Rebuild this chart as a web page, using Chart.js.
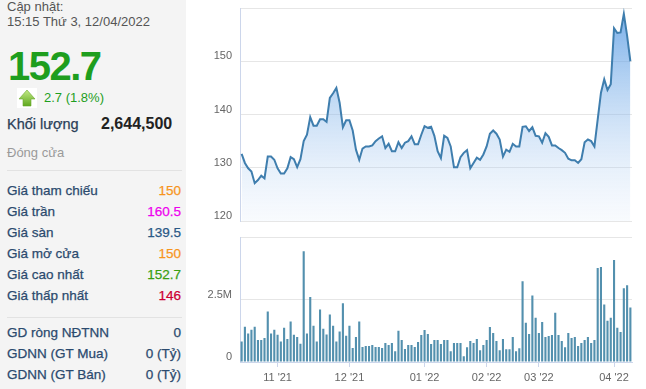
<!DOCTYPE html>
<html>
<head>
<meta charset="utf-8">
<script src="https://cdn.jsdelivr.net/npm/chart.js@4/dist/chart.umd.min.js"></script>
<style>
  body { margin: 0; width: 646px; height: 389px; background: #fff; overflow: hidden;
         font-family: Arial, "Liberation Sans", sans-serif; position: relative; }
  #panel { position: absolute; left: 0; top: 0; width: 186px; height: 389px; background: #f4f4f4; }
  .t { position: absolute; white-space: nowrap; }
  .row { position: absolute; left: 7px; width: 174px; height: 14px; line-height: 14px;
         font-size: 13.5px; color: #2b4a6e; display: flex; justify-content: space-between;
         -webkit-text-stroke: 0.25px; }
  .sep { position: absolute; left: 7px; width: 175px; height: 1px; background: #e2e2e2; }
  #price { position: absolute; left: 200px; top: 0; }
  #volume { position: absolute; left: 200px; top: 228px; }
</style>
</head>
<body>
<div id="panel">
  <div class="t" style="left:7px;top:0;font-size:13px;line-height:13px;color:#555">Cập nhật:</div>
  <div class="t" style="left:7px;top:15px;font-size:13px;line-height:13px;color:#555">15:15 Thứ 3, 12/04/2022</div>
  <div class="t" style="left:8px;top:46px;font-size:40px;line-height:40px;font-weight:bold;color:#1e9e1e;letter-spacing:-1.5px">152.7</div>
  <svg class="t" style="left:17px;top:88px" width="20" height="20" viewBox="0 0 20 20">
    <defs><linearGradient id="ag" x1="0" y1="0" x2="0" y2="1">
      <stop offset="0" stop-color="#c3ea86"/><stop offset="1" stop-color="#5fa81e"/></linearGradient></defs>
    <rect x="0" y="0" width="20" height="20" fill="#fff"/>
    <polygon points="10,2 18,11 14,11 14,18 6,18 6,11 2,11" fill="url(#ag)" stroke="#6aa82e" stroke-width="0.6"/>
  </svg>
  <div class="t" style="left:44px;top:91px;font-size:13px;line-height:13px;color:#1e9e1e">2.7 (1.8%)</div>
  <div class="t" style="left:7px;top:117px;font-size:14.5px;line-height:15px;color:#2b3f58;-webkit-text-stroke:0.25px">Khối lượng</div>
  <div class="t" style="left:101px;top:116px;font-size:16px;line-height:16px;font-weight:bold;color:#222">2,644,500</div>
  <div class="t" style="left:7px;top:146px;font-size:13px;line-height:13px;color:#9a9a9a">Đóng cửa</div>
  <div class="sep" style="top:170px"></div>
  <div class="row" style="top:184px"><span>Giá tham chiếu</span><span style="color:#f7941d">150</span></div>
  <div class="row" style="top:205px"><span>Giá trần</span><span style="color:#ee00ee">160.5</span></div>
  <div class="row" style="top:226px"><span>Giá sàn</span><span style="color:#2a5885">139.5</span></div>
  <div class="row" style="top:247px"><span>Giá mở cửa</span><span style="color:#f7941d">150</span></div>
  <div class="row" style="top:268px"><span>Giá cao nhất</span><span style="color:#3a9f12">152.7</span></div>
  <div class="row" style="top:289px"><span>Giá thấp nhất</span><span style="color:#cc0033">146</span></div>
  <div class="sep" style="top:317px"></div>
  <div class="row" style="top:326px"><span>GD ròng NĐTNN</span><span>0</span></div>
  <div class="row" style="top:347px"><span>GDNN (GT Mua)</span><span>0 (Tỷ)</span></div>
  <div class="row" style="top:368px"><span>GDNN (GT Bán)</span><span>0 (Tỷ)</span></div>
</div>

<canvas id="price" width="446" height="228"></canvas>
<canvas id="volume" width="446" height="161"></canvas>

<script>
// closing price, one value per trading day (15/10/2021 .. 08/04/2022)
var closePrices = [
  132.6, 130.9, 129.9, 129.3, 127.1, 127.7, 128.5, 128.0, 132.1, 132.1,
  131.5, 129.9, 128.9, 128.9, 129.9, 132.0, 131.6, 130.1, 131.6, 135.0,
  136.2, 139.5, 137.9, 137.9, 139.1, 139.1, 138.6, 143.1, 144.0, 145.0,
  142.2, 137.6, 138.9, 138.9, 137.0, 133.4, 131.5, 133.6, 134.0, 134.0,
  134.2, 135.0, 135.5, 135.9, 133.7, 134.5, 133.1, 133.1, 134.8, 133.7,
  134.7, 135.0, 135.9, 134.4, 134.4, 136.2, 137.8, 137.5, 137.7, 136.0,
  133.1, 131.8, 136.0, 135.6, 134.0, 130.1, 130.1, 132.0, 132.8, 133.3,
  129.9, 130.9, 131.9, 131.5, 132.5, 134.0, 136.4, 137.0, 136.4, 135.3,
  132.1, 133.4, 133.0, 134.5, 134.0, 134.0, 137.7, 137.8, 136.9, 137.6,
  136.0, 135.9, 134.7, 136.5, 135.8, 134.2, 134.2, 133.7, 133.3, 132.8,
  131.7, 131.4, 131.4, 130.9, 131.6, 134.8, 135.3, 135.0, 134.0, 139.1,
  144.1, 146.6, 144.6, 145.7, 156.2, 155.3, 155.4, 158.9, 154.8, 150.0
];

// volume in millions of shares
var volumesM = [
  0.82, 1.41, 1.14, 1.29, 1.41, 0.88, 0.88, 0.96, 2.02, 1.14,
  1.29, 1.09, 0.82, 1.37, 0.92, 1.62, 1.09, 1.00, 0.73, 4.43,
  1.14, 2.60, 1.45, 0.82, 2.10, 1.33, 1.10, 1.90, 1.45, 0.82,
  1.22, 2.35, 1.05, 1.45, 0.56, 1.00, 1.62, 0.60, 0.64, 0.64,
  0.68, 0.60, 0.60, 0.56, 0.76, 0.68, 0.76, 0.43, 1.25, 0.88,
  0.52, 0.68, 0.68, 0.60, 0.80, 1.08, 1.28, 1.12, 0.72, 0.88,
  0.88, 0.72, 0.88, 0.88, 0.43, 0.76, 0.76, 0.76, 0.23, 0.59,
  0.84, 0.76, 0.92, 0.47, 0.68, 0.88, 1.40, 1.16, 0.84, 0.47,
  0.92, 0.51, 0.51, 1.00, 0.43, 0.55, 3.23, 1.57, 1.12, 2.66,
  1.77, 1.16, 1.60, 1.00, 1.04, 1.08, 1.97, 1.08, 0.84, 0.59,
  1.16, 0.96, 1.00, 0.64, 0.76, 0.88, 1.00, 0.76, 0.88, 3.76,
  3.80, 2.30, 1.65, 1.77, 4.08, 1.37, 1.20, 2.95, 3.07, 2.18
];

// month labels and the index of the first trading day of each month
var monthTicks = ["11 '21", "12 '21", "01 '22", "02 '22", "03 '22", "04 '22"];
var monthStart = [11, 33, 56, 75, 91, 114];

var priceTicks = [120, 130, 140, 150];
var volumeTicks = { 0: '0', 2.5: '2.5M' };

var labels = closePrices.map(function (p, i) { return String(i); });

Chart.defaults.font.family = 'Arial, "Liberation Sans", sans-serif';
Chart.defaults.font.size = 11;
Chart.defaults.color = '#666';

var gridColor = '#e6e6e6';
var axisColor = '#ccd6eb';

var ctx = document.getElementById('price').getContext('2d');
var chart = new Chart(ctx, {
    type: 'line',
    data: {
        labels: labels,
        datasets: [{
            data: closePrices,
            borderColor: '#3f7eae',
            borderWidth: 2,
            pointRadius: 0,
            tension: 0,
            fill: 'start',
            backgroundColor: function (c) {
                var area = c.chart.chartArea;
                if (!area) return 'rgba(124,181,236,0.5)';
                var g = c.chart.ctx.createLinearGradient(0, area.top, 0, area.bottom);
                g.addColorStop(0, 'rgba(70,145,225,0.74)');
                g.addColorStop(1, 'rgba(200,220,245,0.12)');
                return g;
            }
        }]
    },
    options: {
        responsive: false,
        animation: false,
        layout: { padding: { top: 8, right: 14, bottom: 7, left: 0 } },
        plugins: { legend: { display: false }, tooltip: { enabled: false } },
        scales: {
            x: { display: false, offset: true },
            y: {
                min: 120,
                max: 160,
                afterFit: function (s) { s.width = 40; },
                border: { color: axisColor },
                grid: { color: gridColor, tickLength: 8, tickColor: 'rgba(0,0,0,0)' },
                ticks: {
                    stepSize: 10,
                    padding: 0,
                    labelOffset: -5,
                    callback: function (v) { return priceTicks.indexOf(v) >= 0 ? String(v) : ''; }
                }
            }
        }
    }
});

var ctx = document.getElementById('volume').getContext('2d');
var chart = new Chart(ctx, {
    type: 'bar',
    data: {
        labels: labels,
        datasets: [{
            data: volumesM,
            backgroundColor: '#5390ae',
            barPercentage: 0.65,
            categoryPercentage: 1
        }]
    },
    options: {
        responsive: false,
        animation: false,
        layout: { padding: { top: 9, right: 14, bottom: 0, left: 0 } },
        plugins: { legend: { display: false }, tooltip: { enabled: false } },
        scales: {
            x: {
                offset: true,
                border: { color: axisColor },
                grid: { drawOnChartArea: false, offset: false, tickLength: 5, color: axisColor },
                afterBuildTicks: function (a) {
                    a.ticks = monthStart.map(function (v) { return { value: v }; });
                },
                afterFit: function (a) { a.height = 27; },
                ticks: {
                    autoSkip: false,
                    maxRotation: 0,
                    minRotation: 0,
                    padding: 4,
                    callback: function (v) { return monthTicks[monthStart.indexOf(v)]; }
                }
            },
            y: {
                min: 0,
                max: 5,
                afterFit: function (s) { s.width = 40; },
                border: { color: axisColor },
                grid: { color: gridColor, tickLength: 8, tickColor: 'rgba(0,0,0,0)' },
                ticks: {
                    stepSize: 2.5,
                    padding: 0,
                    labelOffset: -5,
                    callback: function (v) { return volumeTicks[v] || ''; }
                }
            }
        }
    }
});
</script>
</body>
</html>
